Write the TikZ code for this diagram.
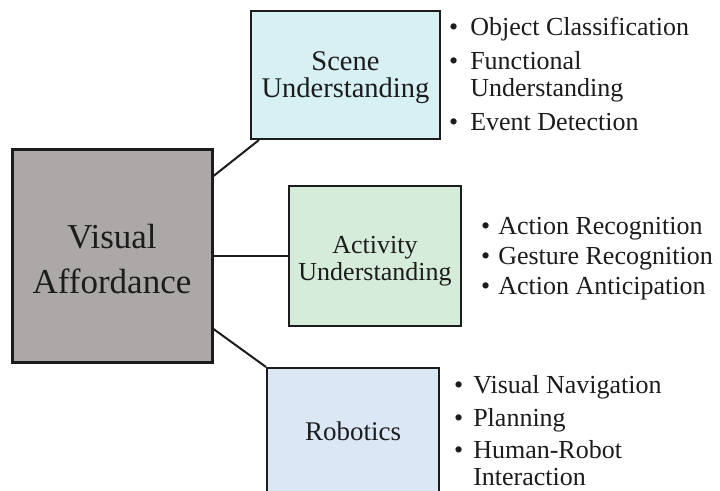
\documentclass[tikz,border=0pt]{standalone}
\usepackage{fontspec}
\setmainfont{Liberation Serif}
\usetikzlibrary{positioning}

\definecolor{vagray}{RGB}{171,168,167}
\definecolor{scenecyan}{RGB}{214,240,243}
\definecolor{actgreen}{RGB}{214,236,219}
\definecolor{robblue}{RGB}{220,231,245}
\definecolor{ink}{RGB}{28,28,28}

\tikzset{
	box/.style={draw=ink, line width=2pt, inner sep=0pt},
	boxtext/.style={inner sep=0pt, align=center, text=ink},
	items/.style={anchor=west, inner sep=0pt, text=ink, font=\fontsize{26}{27}\selectfont},
	link/.style={draw=ink, line width=2pt},
}

\begin{document}
\begin{tikzpicture}[x=1pt, y=-1pt]
	\useasboundingbox (0,0) rectangle (720,490);
	\clip (0,0) rectangle (720,490);

	\node[box, line width=3pt, fill=vagray, minimum width=200pt, minimum height=213pt] (va) at (112,255.5) {};
	\node[boxtext, font=\fontsize{35}{45}\selectfont] (vatext) at (112,259) {Visual\\Affordance};

	\node[box, fill=scenecyan, minimum width=189pt, minimum height=128pt] (scene) at (345.5,75) {};
	\node[boxtext, font=\fontsize{28.5}{27}\selectfont] (scenetext) at (345.5,78) {Scene\\Understanding};

	\node[box, fill=actgreen, minimum width=172pt, minimum height=140pt] (act) at (375,255.5) {};
	\node[boxtext, font=\fontsize{26}{27.5}\selectfont] (acttext) at (375,261) {Activity\\Understanding};

	\node[box, fill=robblue, minimum width=172pt, minimum height=124pt] (rob) at (353,430) {};
	\node[boxtext, font=\fontsize{27}{28}\selectfont] (robtext) at (353,431) {Robotics};

	\draw[link] (va.east |- 0,176) -- (scene.south -| 259,0);
	\draw[link] (va.east) -- (act.west);
	\draw[link] (va.east |- 0,329) -- (rob.north west);

	\node[items] (scenelist) at (449,78) {\begin{tabular}{@{}l@{\hspace{12pt}}l@{}}
		\textbullet & Object Classification\\[7pt]
		\textbullet & Functional\\
		& Understanding\\[7pt]
		\textbullet & Event Detection
	\end{tabular}};

	\node[items] (actlist) at (481,259) {\begin{tabular}{@{}l@{\hspace{8pt}}l@{}}
		\textbullet & Action Recognition\\[3pt]
		\textbullet & Gesture Recognition\\[3pt]
		\textbullet & Action Anticipation
	\end{tabular}};

	\node[items] (roblist) at (454,434) {\begin{tabular}{@{}l@{\hspace{10pt}}l@{}}
		\textbullet & Visual Navigation\\[6pt]
		\textbullet & Planning\\[5pt]
		\textbullet & Human-Robot\\
		& Interaction
	\end{tabular}};
\end{tikzpicture}
\end{document}
